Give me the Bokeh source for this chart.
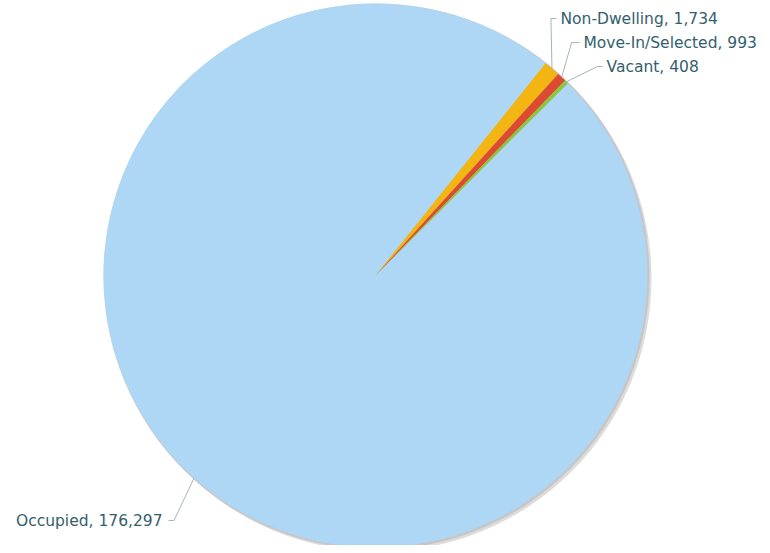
import math
from bokeh.plotting import figure
from bokeh.models import Range1d, ColumnDataSource
from bokeh.embed import file_html
from bokeh.resources import INLINE
from bokeh.core.properties import value

# ---- data ----
categories = ["Occupied", "Non-Dwelling", "Move-In/Selected", "Vacant"]
counts = [176297, 1734, 993, 408]
colors = ["#aed6f5", "#f2b512", "#dc4a2f", "#8cc63f"]

# ---- layout (picture px; data y = 553 - picture y) ----
W, H = 762, 545
CX, CY_S, R = 375, 275, 272
CY = 553 - CY_S
START = math.pi / 4  # start angle, slices run clockwise

# label layout: (elbow_dx, elbow_screen_y, text_x, align)
label_layout = {
    "Occupied": (-20, 520, 162, "right"),
    "Non-Dwelling": (-1, 18, 560, "left"),
    "Move-In/Selected": (10, 42, 583, "left"),
    "Vacant": (31, 66, 606, "left"),
}

total = float(sum(counts))
starts, ends, mids = [], [], []
a = START
for c in counts:
    span = c / total * 2 * math.pi
    starts.append(a - span)
    ends.append(a)
    mids.append(a - span / 2)
    a -= span

p = figure(width=W, height=H, output_backend="svg", toolbar_location=None,
           x_range=Range1d(0, W), y_range=Range1d(553 - H, 553),
           x_axis_type=None, y_axis_type=None, min_border=0)
p.grid.visible = False
p.outline_line_color = None
p.background_fill_color = "white"
p.border_fill_color = "white"

# subtle shadow
p.circle(x=[CX + 3], y=[CY - 3], radius=R + 1, fill_color="#9a9a9a",
         fill_alpha=0.35, line_color=None)
p.circle(x=[CX + 1], y=[CY - 1], radius=R + 1, fill_color="#b8b8b8",
         fill_alpha=0.6, line_color=None)

src = ColumnDataSource(dict(start=starts, end=ends, color=colors))
p.wedge(x=CX, y=CY, radius=R, start_angle="start", end_angle="end",
        fill_color="color", line_color=None, source=src)

fmt = lambda v: f"{v:,}"
for cat, cnt, m in zip(categories, counts, mids):
    ax = CX + R * math.cos(m)
    ay = CY + R * math.sin(m)
    edx, esy, tx, align = label_layout[cat]
    ex = ax + edx
    ey = 553 - esy
    hx = tx - 4 if align == "left" else tx + 6
    p.line(x=[ax, ex, hx], y=[ay, ey, ey], line_color="#a8b4b8", line_width=1)
    p.text(x=[tx], y=[ey], text=[f"{cat}, {fmt(cnt)}"],
           text_font=value("DejaVu Sans"), text_font_size="15.5px",
           text_color="#33606e", text_align=align, text_baseline="middle")

open("out.html", "w").write(file_html(p, INLINE))
